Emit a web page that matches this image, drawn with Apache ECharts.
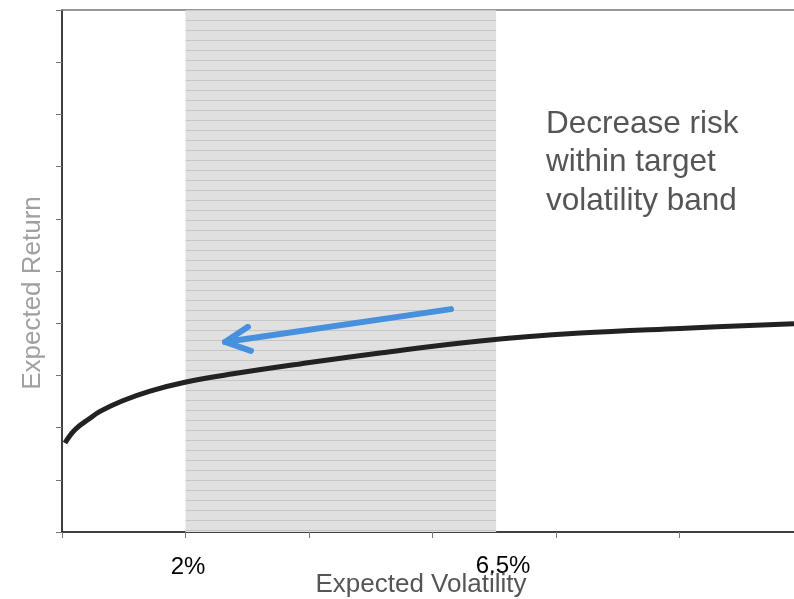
<!DOCTYPE html>
<html><head><meta charset="utf-8">
<script src="https://cdn.jsdelivr.net/npm/echarts@6/dist/echarts.min.js"></script>
<style>html,body{margin:0;padding:0;background:#fff}#c{width:794px;height:599px}</style>
</head><body><div id="c"></div>
<script>
// Efficient frontier curve (x: volatility axis units, y: return axis units)
const curveX = [0.024, 0.105, 0.227, 0.308, 0.486, 0.713, 0.996, 1.385, 1.927, 2.575, 3.385, 4.194, 5.004, 5.927];
const curveY = [1.705, 1.96, 2.18, 2.31, 2.51, 2.70, 2.87, 3.03, 3.22, 3.43, 3.66, 3.81, 3.90, 3.99];
// Target volatility band (axis units)
const bandX = [1.0, 3.515];
// Arrow shaft and head
const arrowShaftX = [3.15, 1.32];
const arrowShaftY = [4.27, 3.64];
const arrowHeadX = [1.506, 1.32, 1.53];
const arrowHeadY = [3.93, 3.64, 3.47];
const bandLabels = ['2%', '6.5%'];
const noteLines = ['Decrease risk', 'within target', 'volatility band'];

const zip = (a, b) => a.map((v, i) => [v, b[i]]);

// stripe pattern for band
const pc = document.createElement('canvas');
pc.width = 8; pc.height = 10;
const g = pc.getContext('2d');
g.fillStyle = '#e0e0e0'; g.fillRect(0, 0, 8, 10);
g.fillStyle = '#c6c6c6'; g.fillRect(0, 0, 8, 1);

const chart = echarts.init(document.getElementById('c'), null, {renderer: 'canvas'});
const font = '"Liberation Sans", Arial, sans-serif';
const xMax = 5.927;
chart.setOption({
  animation: false,
  grid: {left: 62, right: 0, top: 10, bottom: 67, containLabel: false},
  xAxis: [{
    type: 'value', min: 0, max: xMax, interval: 1,
    axisLine: {show: true, lineStyle: {color: '#000', width: 1.5}},
    axisTick: {show: true, length: 6, lineStyle: {color: '#777'}},
    axisLabel: {show: false}, splitLine: {show: false}
  }, {
    type: 'value', min: 0, max: xMax, position: 'top',
    axisLine: {show: true, onZero: false, lineStyle: {color: '#777', width: 1.5}},
    axisTick: {show: false}, axisLabel: {show: false}, splitLine: {show: false}
  }],
  yAxis: {
    type: 'value', min: 0, max: 10, interval: 1,
    axisLine: {show: true, lineStyle: {color: '#000', width: 1.5}},
    axisTick: {show: true, length: 6, lineStyle: {color: '#777'}},
    axisLabel: {show: false}, splitLine: {show: false}
  },
  graphic: [
    {type: 'text', left: 546, top: 105, style: {text: noteLines.join('\n'), font: '31.5px ' + font, fill: '#555', lineHeight: 38.5}},
    {type: 'text', x: 33, y: 293, rotation: Math.PI / 2, style: {text: 'Expected Return', font: '26px ' + font, fill: '#a0a0a0', align: 'center', verticalAlign: 'middle'}},
    {type: 'text', x: 421, y: 585, style: {text: 'Expected Volatility', font: '26px ' + font, fill: '#555', align: 'center', verticalAlign: 'middle'}},
    {type: 'text', x: 188, y: 567, style: {text: bandLabels[0], font: '24px ' + font, fill: '#000', align: 'center', verticalAlign: 'middle'}},
    {type: 'text', x: 503, y: 566, style: {text: bandLabels[1], font: '24px ' + font, fill: '#000', align: 'center', verticalAlign: 'middle'}}
  ],
  series: [
    {
      type: 'line', data: [], silent: true,
      markArea: {silent: true, itemStyle: {color: {image: pc, repeat: 'repeat'}},
        data: [[{xAxis: bandX[0], yAxis: 0}, {xAxis: bandX[1], yAxis: 10}]]}
    },
    {
      type: 'line', data: zip(curveX, curveY), smooth: 0.4, showSymbol: false, silent: true, clip: true,
      lineStyle: {color: '#222', width: 5}, z: 5
    },
    {
      type: 'line', data: zip(arrowShaftX, arrowShaftY), showSymbol: false, silent: true,
      lineStyle: {color: '#4690de', width: 6, cap: 'round'}, z: 6
    },
    {
      type: 'line', data: zip(arrowHeadX, arrowHeadY), showSymbol: false, silent: true,
      lineStyle: {color: '#4690de', width: 6, cap: 'round', join: 'round'}, z: 6
    }
  ]
});
</script></body></html>
